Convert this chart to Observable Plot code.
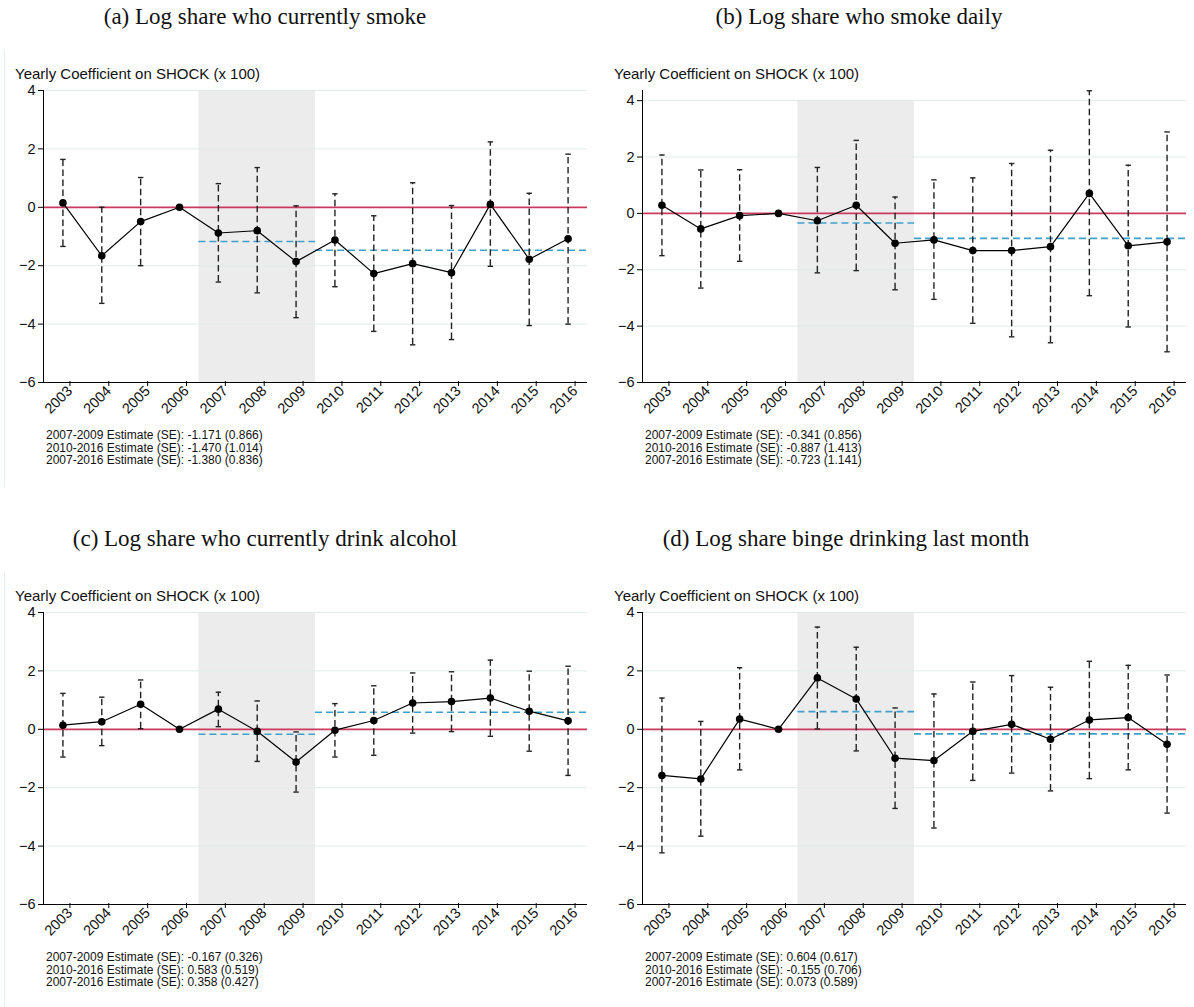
<!DOCTYPE html>
<html><head><meta charset="utf-8">
<script src="https://cdn.jsdelivr.net/npm/d3@7"></script>
<script src="https://cdn.jsdelivr.net/npm/@observablehq/plot@0.6"></script>
<style>
body{margin:0;background:#fff;width:1194px;height:1007px;position:relative;overflow:hidden;font-family:"Liberation Sans",Arial,sans-serif;color:#111}
.panel{position:absolute;width:595px;height:515px}
.cap{position:absolute;top:5px;font-family:"Liberation Serif",serif;font-size:23px;line-height:23px;white-space:nowrap;transform:translateX(-50%);color:#111}
.ytitle{position:absolute;left:15px;top:66px;font-size:15px;line-height:15px;white-space:nowrap}
.notes{position:absolute;left:46px;top:429px;font-size:12px;line-height:12.5px;white-space:pre}
.chart{position:absolute;left:0;top:60px}
.edge{position:absolute;left:4px;top:50px;width:1px;height:437px;background:#e6eef2}
</style></head><body>
<script>
const years = [2003,2004,2005,2006,2007,2008,2009,2010,2011,2012,2013,2014,2015,2016];

const captions = [
  "(a) Log share who currently smoke",
  "(b) Log share who smoke daily",
  "(c) Log share who currently drink alcohol",
  "(d) Log share binge drinking last month"
];
const yTitle = "Yearly Coefficient on SHOCK (x 100)";

const smokeCoef = [0.15,-1.66,-0.49,0,-0.88,-0.80,-1.86,-1.12,-2.27,-1.93,-2.24,0.10,-1.78,-1.08];
const smokeLo   = [-1.34,-3.29,-2.00,null,-2.56,-2.93,-3.78,-2.72,-4.25,-4.71,-4.53,-2.02,-4.05,-4.00];
const smokeHi   = [1.64,0.00,1.02,null,0.81,1.36,0.05,0.46,-0.29,0.84,0.06,2.24,0.48,1.82];

const dailyCoef = [0.29,-0.55,-0.08,0,-0.26,0.29,-1.06,-0.94,-1.32,-1.32,-1.18,0.71,-1.15,-1.01];
const dailyLo   = [-1.50,-2.65,-1.70,null,-2.11,-2.03,-2.71,-3.05,-3.90,-4.38,-4.59,-2.92,-4.03,-4.91];
const dailyHi   = [2.07,1.54,1.55,null,1.63,2.59,0.58,1.19,1.26,1.77,2.24,4.35,1.71,2.89];

const drinkCoef = [0.14,0.26,0.86,0,0.69,-0.07,-1.12,-0.03,0.30,0.90,0.95,1.07,0.62,0.29];
const drinkLo   = [-0.95,-0.56,0.02,null,0.09,-1.10,-2.15,-0.95,-0.89,-0.13,-0.08,-0.24,-0.75,-1.58];
const drinkHi   = [1.23,1.10,1.69,null,1.27,0.97,-0.09,0.88,1.49,1.93,1.97,2.37,1.99,2.16];

const bingeCoef = [-1.58,-1.70,0.35,0,1.76,1.04,-0.99,-1.07,-0.07,0.17,-0.34,0.32,0.40,-0.51];
const bingeLo   = [-4.23,-3.66,-1.39,null,0.01,-0.74,-2.71,-3.38,-1.75,-1.50,-2.11,-1.69,-1.39,-2.87];
const bingeHi   = [1.07,0.27,2.11,null,3.50,2.81,0.73,1.21,1.62,1.84,1.44,2.33,2.19,1.86];

// pooled estimates: [2007-2009, 2010-2016, 2007-2016]
const smokeEst = [-1.171,-1.470,-1.380]; const smokeSE = [0.866,1.014,0.836];
const dailyEst = [-0.341,-0.887,-0.723]; const dailySE = [0.856,1.413,1.141];
const drinkEst = [-0.167,0.583,0.358];   const drinkSE = [0.326,0.519,0.427];
const bingeEst = [0.604,-0.155,0.073];   const bingeSE = [0.617,0.706,0.589];
const periodLabels = ["2007-2009","2010-2016","2007-2016"];
const periodFrom = [2006.5, 2009.5];
const periodTo   = [2009.5, 2016.5];
const shockYears = [2006.5, 2009.5];
const yTicks = [-6,-4,-2,0,2,4];
const yMax = [4, 4.36, 4, 4];
const panelLeft = [0, 599, 0, 599];
const panelTop = [0, 0, 522, 522];
const capCenter = [265, 260, 265, 247];

const series = [
  [smokeCoef, smokeLo, smokeHi, smokeEst, smokeSE],
  [dailyCoef, dailyLo, dailyHi, dailyEst, dailySE],
  [drinkCoef, drinkLo, drinkHi, drinkEst, drinkSE],
  [bingeCoef, bingeLo, bingeHi, bingeEst, bingeSE]
];

const capSym = {draw(ctx, size){const w = Math.sqrt(size/Math.PI); ctx.moveTo(-w,0); ctx.lineTo(w,0);}};

function fmt(v){ return v.toFixed(3); }

series.forEach(([coef, lo, hi, est, se], k) => {
  const panel = document.createElement("div");
  panel.className = "panel";
  panel.style.left = panelLeft[k] + "px";
  panel.style.top = panelTop[k] + "px";
  document.body.appendChild(panel);

  const cap = document.createElement("div");
  cap.className = "cap"; cap.textContent = captions[k];
  cap.style.left = capCenter[k] + "px";
  panel.appendChild(cap);

  if (k % 2 === 0) { const e = document.createElement("div"); e.className = "edge"; panel.appendChild(e); }

  const yt = document.createElement("div");
  yt.className = "ytitle"; yt.textContent = yTitle;
  panel.appendChild(yt);

  const rows = years.map((yr, i) => ({year: yr, coef: coef[i], lo: lo[i], hi: hi[i]}));
  const bars = rows.filter(d => d.lo != null);
  const periods = periodFrom.map((f, i) => ({from: f, to: periodTo[i], est: est[i]}));
  const shade = [{x1: shockYears[0], x2: shockYears[1]}];

  const chart = Plot.plot({
    width: 592, height: 372,
    marginLeft: 43, marginRight: 5, marginTop: 30, marginBottom: 50,
    style: {fontFamily: "Liberation Sans, Arial, sans-serif", fontSize: "14px", background: "transparent", color: "#111"},
    x: {domain: [2002.5, 2016.5]},
    y: {domain: [-6, yMax[k]]},
    marks: [
      Plot.rect(shade, {x1: "x1", x2: "x2", y1: () => -6, y2: () => 4, fill: "#ececec"}),
      Plot.ruleY([-4,-2,2,4], {stroke: "#e2ebeb", strokeWidth: 1}),
      Plot.ruleY([0], {stroke: "#c93a5e", strokeWidth: 1.8}),
      Plot.ruleY(periods, {y: "est", x1: "from", x2: "to", stroke: "#3ea0cc", strokeWidth: 1.6, strokeDasharray: "7,4"}),
      Plot.ruleX(bars, {x: "year", y1: "lo", y2: "hi", stroke: "#222", strokeWidth: 1.4, strokeDasharray: "6.5,3.5"}),
      Plot.dot(bars, {x: "year", y: "hi", symbol: capSym, r: 2.7, stroke: "#222", fill: "none", strokeWidth: 1.4}),
      Plot.dot(bars, {x: "year", y: "lo", symbol: capSym, r: 2.7, stroke: "#222", fill: "none", strokeWidth: 1.4}),
      Plot.line(rows, {x: "year", y: "coef", stroke: "#000", strokeWidth: 1.2}),
      Plot.dot(rows, {x: "year", y: "coef", r: 3.8, fill: "#000"}),
      Plot.ruleX([2002.5], {stroke: "#000", strokeWidth: 1}),
      Plot.ruleY([-6], {stroke: "#000", strokeWidth: 1}),
      Plot.axisY({ticks: yTicks, tickSize: 5, tickPadding: 3, label: null, fontSize: 14.5, stroke: "#000"}),
      Plot.axisX({ticks: years, tickFormat: d => String(d), tickRotate: -45, tickSize: 5, tickPadding: 2, label: null, fontSize: 14.5, stroke: "#000", dx: 7, dy: -1})
    ]
  });
  chart.classList.add("chart");
  panel.appendChild(chart);

  const notes = document.createElement("div");
  notes.className = "notes";
  notes.textContent = periodLabels.map((p, i) => `${p} Estimate (SE): ${fmt(est[i])} (${fmt(se[i])})`).join("\n");
  panel.appendChild(notes);
});
</script>
</body></html>
